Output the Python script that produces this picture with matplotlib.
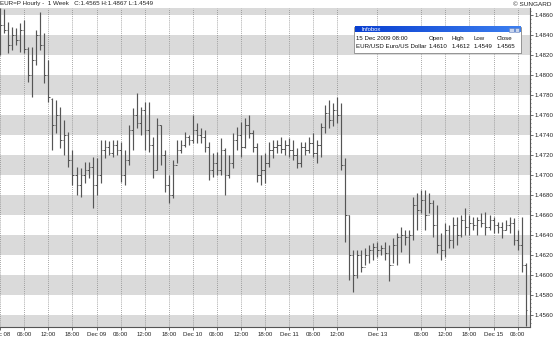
import matplotlib
matplotlib.use("Agg")
import matplotlib.pyplot as plt
import numpy as np
from matplotlib.patches import Rectangle

# hourly EUR/USD bars, index 0 = Dec 08 00:00 (weekend hours skipped)
highs = [1.4867, 1.4866, 1.4853, 1.4848, 1.4847, 1.4852, 1.4855, 1.4828, 1.4828, 1.4845,
         1.4863, 1.4842, 1.4815, 1.4777, 1.4775, 1.4768, 1.4755, 1.4743, 1.4725, 1.4708,
         1.4707, 1.4713, 1.4713, 1.4718, 1.4717, 1.4735, 1.4735, 1.4734, 1.4735, 1.4735,
         1.4733, 1.4725, 1.4750, 1.4767, 1.4782, 1.4768, 1.4773, 1.4773, 1.4738, 1.4757,
         1.4750, 1.4725, 1.4700, 1.4715, 1.4735, 1.4735, 1.4743, 1.4740, 1.4760, 1.4752,
         1.4747, 1.4745, 1.4733, 1.4722, 1.4723, 1.4737, 1.4727, 1.4720, 1.4742, 1.4748,
         1.4753, 1.4757, 1.4760, 1.4745, 1.4732, 1.4720, 1.4722, 1.4733, 1.4735, 1.4735,
         1.4738, 1.4735, 1.4737, 1.4735, 1.4727, 1.4733, 1.4733, 1.4738, 1.4742, 1.4735,
         1.4752, 1.4770, 1.4775, 1.4772, 1.4778, 1.4772, 1.4717, 1.4660, 1.4625, 1.4625,
         1.4625, 1.4627, 1.4630, 1.4632, 1.4633, 1.4630, 1.4633, 1.4630, 1.4637, 1.4642,
         1.4648, 1.4645, 1.4645, 1.4678, 1.4682, 1.4685, 1.4685, 1.4682, 1.4675, 1.4670,
         1.4642, 1.4652, 1.4650, 1.4658, 1.4658, 1.4660, 1.4667, 1.4660, 1.4658, 1.4658,
         1.4662, 1.4663, 1.4660, 1.4658, 1.4653, 1.4653, 1.4655, 1.4658, 1.4657, 1.4645,
         1.4658, 1.4612]
lows = [1.4820, 1.4842, 1.4822, 1.4825, 1.4830, 1.4823, 1.4822, 1.4793, 1.4778, 1.4810,
        1.4825, 1.4792, 1.4773, 1.4725, 1.4742, 1.4727, 1.4720, 1.4708, 1.4690, 1.4680,
        1.4678, 1.4692, 1.4697, 1.4667, 1.4680, 1.4692, 1.4717, 1.4720, 1.4718, 1.4720,
        1.4693, 1.4690, 1.4710, 1.4725, 1.4747, 1.4740, 1.4725, 1.4723, 1.4697, 1.4705,
        1.4710, 1.4683, 1.4672, 1.4677, 1.4712, 1.4722, 1.4728, 1.4730, 1.4732, 1.4732,
        1.4732, 1.4723, 1.4695, 1.4698, 1.4700, 1.4700, 1.4680, 1.4697, 1.4707, 1.4725,
        1.4718, 1.4727, 1.4737, 1.4723, 1.4693, 1.4690, 1.4692, 1.4708, 1.4717, 1.4722,
        1.4722, 1.4720, 1.4718, 1.4715, 1.4707, 1.4708, 1.4720, 1.4722, 1.4718, 1.4712,
        1.4718, 1.4742, 1.4747, 1.4749, 1.4752, 1.4705, 1.4633, 1.4595, 1.4583, 1.4597,
        1.4603, 1.4610, 1.4612, 1.4615, 1.4618, 1.4620, 1.4615, 1.4594, 1.4612, 1.4610,
        1.4623, 1.4630, 1.4612, 1.4635, 1.4645, 1.4662, 1.4645, 1.4662, 1.4638, 1.4622,
        1.4615, 1.4618, 1.4627, 1.4627, 1.4630, 1.4638, 1.4640, 1.4640, 1.4645, 1.4640,
        1.4648, 1.4640, 1.4645, 1.4642, 1.4642, 1.4637, 1.4645, 1.4642, 1.4630, 1.4625,
        1.4603, 1.4549]
opens = [1.4835, 1.4850, 1.4845, 1.4830, 1.4840, 1.4835, 1.4845, 1.4826, 1.4800, 1.4815,
         1.4840, 1.4830, 1.4800, 1.4776, 1.4750, 1.4760, 1.4735, 1.4740, 1.4715, 1.4700,
         1.4690, 1.4700, 1.4705, 1.4708, 1.4690, 1.4700, 1.4725, 1.4728, 1.4722, 1.4730,
         1.4725, 1.4700, 1.4715, 1.4745, 1.4760, 1.4752, 1.4765, 1.4745, 1.4730, 1.4705,
         1.4750, 1.4720, 1.4690, 1.4680, 1.4710, 1.4725, 1.4730, 1.4738, 1.4735, 1.4745,
         1.4740, 1.4738, 1.4728, 1.4705, 1.4712, 1.4705, 1.4725, 1.4700, 1.4712, 1.4735,
         1.4740, 1.4728, 1.4750, 1.4742, 1.4728, 1.4700, 1.4705, 1.4712, 1.4725, 1.4728,
         1.4730, 1.4726, 1.4730, 1.4725, 1.4720, 1.4712, 1.4728, 1.4725, 1.4732, 1.4722,
         1.4730, 1.4748, 1.4762, 1.4755, 1.4765, 1.4760, 1.4710, 1.4660, 1.4620, 1.4600,
         1.4620, 1.4608, 1.4620, 1.4625, 1.4628, 1.4625, 1.4627, 1.4622, 1.4610, 1.4630,
         1.4638, 1.4640, 1.4638, 1.4640, 1.4670, 1.4665, 1.4675, 1.4660, 1.4672, 1.4650,
         1.4630, 1.4625, 1.4645, 1.4635, 1.4650, 1.4640, 1.4655, 1.4648, 1.4652, 1.4650,
         1.4655, 1.4652, 1.4648, 1.4655, 1.4650, 1.4648, 1.4645, 1.4650, 1.4652, 1.4635,
         1.4630, 1.4610]
closes = [1.4850, 1.4845, 1.4830, 1.4840, 1.4835, 1.4845, 1.4826, 1.4800, 1.4815, 1.4840,
          1.4830, 1.4800, 1.4778, 1.4750, 1.4760, 1.4735, 1.4740, 1.4715, 1.4700, 1.4690,
          1.4700, 1.4705, 1.4708, 1.4690, 1.4700, 1.4725, 1.4728, 1.4722, 1.4730, 1.4725,
          1.4700, 1.4715, 1.4745, 1.4760, 1.4752, 1.4765, 1.4745, 1.4730, 1.4705, 1.4750,
          1.4720, 1.4690, 1.4680, 1.4710, 1.4725, 1.4730, 1.4738, 1.4735, 1.4745, 1.4740,
          1.4738, 1.4728, 1.4705, 1.4712, 1.4705, 1.4725, 1.4700, 1.4712, 1.4735, 1.4740,
          1.4728, 1.4750, 1.4742, 1.4728, 1.4700, 1.4705, 1.4712, 1.4725, 1.4728, 1.4730,
          1.4726, 1.4730, 1.4725, 1.4720, 1.4712, 1.4728, 1.4725, 1.4732, 1.4722, 1.4730,
          1.4748, 1.4762, 1.4755, 1.4765, 1.4760, 1.4710, 1.4660, 1.4620, 1.4600, 1.4620,
          1.4608, 1.4620, 1.4625, 1.4628, 1.4625, 1.4627, 1.4622, 1.4610, 1.4630, 1.4638,
          1.4640, 1.4638, 1.4640, 1.4670, 1.4665, 1.4675, 1.4660, 1.4672, 1.4650, 1.4630,
          1.4625, 1.4645, 1.4635, 1.4650, 1.4640, 1.4655, 1.4648, 1.4652, 1.4650, 1.4655,
          1.4652, 1.4648, 1.4655, 1.4650, 1.4648, 1.4645, 1.4650, 1.4652, 1.4635, 1.4630,
          1.4610, 1.4565]

xtick_pos = [0, 6, 12, 18, 24, 30, 36, 42, 48, 54, 60, 66, 72, 78, 84, 94, 105, 111, 117, 123, 129]
xtick_labels = ["Dec 08", "06:00", "12:00", "18:00", "Dec 09", "06:00", "12:00", "18:00",
                "Dec 10", "06:00", "12:00", "18:00", "Dec 11", "06:00", "12:00", "Dec 13",
                "06:00", "12:00", "18:00", "Dec 15", "06:00"]
ytick_vals = [1.4560, 1.4580, 1.4600, 1.4620, 1.4640, 1.4660, 1.4680, 1.4700, 1.4720,
              1.4740, 1.4760, 1.4780, 1.4800, 1.4820, 1.4840, 1.4860]
band_lows = [1.4540, 1.4580, 1.4620, 1.4660, 1.4700, 1.4740, 1.4780, 1.4820, 1.4860]

title = "EUR=P Hourly -  1 Week   C:1.4565 H:1.4867 L:1.4549"
info_head = ["15 Dec 2009 08:00", "Open", "High", "Low", "Close"]
info_row = ["EUR/USD Euro/US Dollar", "1.4610", "1.4612", "1.4549", "1.4565"]

plt.rcParams['font.family'] = ['Liberation Sans', 'DejaVu Sans']
W, H = 553, 339
fig = plt.figure(figsize=(W / 100, H / 100), dpi=100)
fig.patch.set_facecolor('white')

ax = fig.add_axes([0, 12 / H, 530 / W, (327 - 8) / H])
ax.set_xlim(-0.08, 132.1)
ax.set_ylim(1.4548, 1.4867)

for b in band_lows:
    ax.axhspan(b, b + 0.002, color='#dadada', lw=0, zorder=0)
for p in xtick_pos:
    ax.axvline(p, color='#8a8a8a', lw=0.6, ls=(0, (1, 1.5)), zorder=1)

idx = np.arange(len(highs))
bar_col = '#555555'
ax.vlines(idx, lows, highs, color=bar_col, lw=0.85, zorder=3)
ax.hlines(opens, idx - 0.4, idx, color=bar_col, lw=0.7, zorder=3)
ax.hlines(closes, idx, idx + 0.4, color=bar_col, lw=0.7, zorder=3)

for s in ['left', 'top']:
    ax.spines[s].set_visible(False)
for s in ['right', 'bottom']:
    ax.spines[s].set_color('#555555')
    ax.spines[s].set_linewidth(0.8)

ax.set_xticks(xtick_pos, xtick_labels)
ax.tick_params(axis='x', length=2, width=0.6, color='#555555', labelsize=4.4, pad=1.5,
               labelcolor='#222222')
ax.yaxis.tick_right()
ax.set_yticks(ytick_vals, ["%.4f" % v for v in ytick_vals])
ax.set_yticks(np.arange(1.4552, 1.4867, 0.0004), minor=True)
ax.tick_params(axis='y', which='major', length=2, width=0.6, color='#555555', labelsize=4.4,
               pad=1.5, labelcolor='#222222')
ax.tick_params(axis='y', which='minor', length=1, width=0.5, color='#555555')

# overlay in pixel coords for header text and infobox
ov = fig.add_axes([0, 0, 1, 1])
ov.set_xlim(0, W)
ov.set_ylim(H, 0)
ov.axis('off')

ov.text(0, 4, title, fontsize=4.5, va='center', ha='left', color='#222222')
ov.text(551, 4, "\u00a9 SUNGARD", fontsize=4.6, va='center', ha='right', color='#222222')

ov.add_patch(Rectangle((355, 27.5), 167, 26.5, fc='#9a9a9a', ec='none'))
ov.add_patch(Rectangle((354, 26.5), 167, 26.5, fc='white', ec='#8c8c8c', lw=0.6))
grad = np.linspace(0, 1, 64).reshape(1, -1)
ov.imshow(grad, cmap=matplotlib.colors.LinearSegmentedColormap.from_list('bb', ['#0a3fd0', '#3c7ff0']),
          extent=(354.5, 520.5, 32.5, 27), aspect='auto', zorder=3)
ov.set_xlim(0, W)
ov.set_ylim(H, 0)
ov.text(362, 29.8, "Infobox", fontsize=4.3, color='white', va='center', ha='left', zorder=4)
ov.add_patch(Rectangle((509, 27.7), 4.5, 4.2, fc='#c8d4ec', ec='#6080c0', lw=0.4, zorder=4))
ov.add_patch(Rectangle((514.5, 27.7), 4.5, 4.2, fc='#c8d4ec', ec='#6080c0', lw=0.4, zorder=4))

info_x = [355.5, 429, 451.5, 474, 496.5]
for x, t in zip(info_x, info_head):
    ov.text(x, 38.3, t, fontsize=4.4, va='center', ha='left', color='#111111', zorder=4)
for x, t in zip(info_x, info_row):
    ov.text(x, 46.7, t, fontsize=4.4, va='center', ha='left', color='#111111', zorder=4)

fig.savefig('out.png', dpi=100)
